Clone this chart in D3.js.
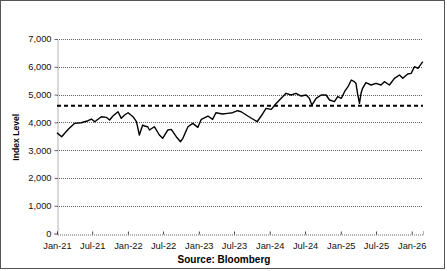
<!DOCTYPE html>
<html>
<head>
<meta charset="utf-8">
<script src="https://cdn.jsdelivr.net/npm/d3@7"></script>
<style>
  html, body { margin: 0; padding: 0; background: #fff; }
</style>
</head>
<body>
<div class="main"></div>
<script>
const width = 447;
const height = 271;
const margin = ({top: 39, right: 24, bottom: 37.5, left: 57});

// index level
const dates = [
  '2021-01-01','2021-01-25','2021-02-28','2021-04-02','2021-05-06','2021-06-10','2021-06-27',
  '2021-07-14','2021-08-17','2021-09-12','2021-09-29','2021-10-16','2021-11-11','2021-11-28',
  '2021-12-15','2022-01-02','2022-01-27','2022-02-14','2022-03-01','2022-03-18','2022-03-27',
  '2022-04-13','2022-04-22','2022-05-17','2022-06-12','2022-06-29','2022-07-25','2022-08-12',
  '2022-09-07','2022-09-29','2022-10-11','2022-11-06','2022-12-01','2022-12-27','2023-01-14',
  '2023-02-17','2023-03-13','2023-03-30','2023-05-03','2023-05-29','2023-06-24','2023-07-19',
  '2023-08-07','2023-09-10','2023-10-14','2023-10-28','2023-11-18','2023-12-13','2024-01-09',
  '2024-02-04','2024-02-29','2024-03-25','2024-04-20','2024-05-15','2024-06-11','2024-07-06',
  '2024-07-23','2024-08-05','2024-08-27','2024-09-22','2024-10-17','2024-11-04','2024-11-29',
  '2024-12-16','2025-01-04','2025-01-20','2025-02-07','2025-02-24','2025-03-11','2025-03-20',
  '2025-03-28','2025-04-07','2025-04-15','2025-04-23','2025-05-10','2025-06-06','2025-07-01',
  '2025-07-27','2025-08-13','2025-09-08','2025-10-04','2025-10-30','2025-11-16','2025-12-11',
  '2025-12-29','2026-01-15','2026-02-02','2026-02-27'
];
const values = [
  3620, 3483, 3749, 3965, 3987, 4059, 4120,
  4023, 4203, 4181, 4084, 4228, 4383, 4145,
  4264, 4347, 4203, 4023, 3545, 3904, 3868,
  3843, 3724, 3843, 3545, 3426, 3724, 3749,
  3483, 3303, 3426, 3843, 3965, 3821, 4109,
  4228, 4109, 4347, 4300, 4325, 4347, 4419,
  4383, 4228, 4084, 4023, 4228, 4505, 4469,
  4685, 4865, 5045, 4984, 5045, 4948, 4984,
  4865, 4624, 4865, 4984, 4984, 4804, 4743,
  4923, 4865, 5103, 5283, 5524, 5463, 5405,
  5045, 4685, 5045, 5225, 5427, 5344, 5405,
  5344, 5463, 5344, 5585, 5704, 5585, 5740,
  5765, 6003, 5945, 6183
];
const yTicks = [0, 1000, 2000, 3000, 4000, 5000, 6000, 7000];
const xTicks = ['2021-01-01','2021-07-01','2022-01-01','2022-07-01','2023-01-01','2023-07-01',
  '2024-01-01','2024-07-01','2025-01-01','2025-07-01','2026-01-01'];
const refLevel = 4600;
const yLabel = 'Index Level';
const source = 'Source: Bloomberg';

const parse = d3.timeParse('%Y-%m-%d');
const data = dates.map((d, i) => ({date: parse(d), value: values[i]}));

const svg = d3.select('.main')
  .append('svg')
  .attr('width', width)
  .attr('height', height)
  .attr('style', 'font-family: "Liberation Sans", Arial, sans-serif; display:block');

// outer frame
svg.append('rect')
  .attr('x', 0.5).attr('y', 0.5)
  .attr('width', 444).attr('height', 268)
  .attr('fill', 'white')
  .attr('stroke', '#555');

const x = d3.scaleTime()
  .domain([parse('2021-01-01'), parse('2026-02-28')])
  .range([margin.left, width - margin.right]);

const y = d3.scaleLinear()
  .domain([0, 7000])
  .range([height - margin.bottom, margin.top]);

// gridlines
svg.append('g')
  .selectAll('line')
  .data(yTicks.filter(d => d > 0))
  .enter()
  .append('line')
  .attr('x1', margin.left)
  .attr('x2', width - margin.right)
  .attr('y1', d => Math.round(y(d)) + 0.5)
  .attr('y2', d => Math.round(y(d)) + 0.5)
  .attr('stroke', '#666')
  .attr('stroke-dasharray', '1,1');

// y axis
svg.append('g')
  .attr('transform', `translate(${margin.left + 0.5}, 0)`)
  .call(d3.axisLeft(y).tickValues(yTicks).tickSize(3).tickPadding(3).tickFormat(d3.format(',')))
  .call(g => g.select('.domain').attr('stroke', '#666').attr('stroke-dasharray', '1,1'))
  .call(g => g.selectAll('.tick line').attr('stroke', '#666'))
  .call(g => g.selectAll('text').attr('font-size', '9.3px').attr('fill', '#111')
    .attr('font-family', '"Liberation Sans", Arial, sans-serif'));

// x axis
svg.append('g')
  .attr('transform', `translate(0, ${Math.round(y(0)) + 0.5})`)
  .call(d3.axisBottom(x).tickValues(xTicks.map(parse)).tickSize(-3).tickPadding(8)
    .tickFormat(d3.timeFormat('%b-%y')))
  .call(g => g.select('.domain').attr('stroke', '#666').attr('stroke-dasharray', '1,1'))
  .call(g => g.selectAll('.tick line').attr('stroke', '#444'))
  .call(g => g.selectAll('text').attr('font-size', '9.3px').attr('fill', '#111')
    .attr('font-family', '"Liberation Sans", Arial, sans-serif'));

// reference level
svg.append('line')
  .attr('x1', margin.left)
  .attr('x2', width - margin.right)
  .attr('y1', y(refLevel))
  .attr('y2', y(refLevel))
  .attr('stroke', 'black')
  .attr('stroke-width', 2)
  .attr('stroke-dasharray', '4,3');

// index line
svg.append('path')
  .datum(data)
  .attr('fill', 'none')
  .attr('stroke', 'black')
  .attr('stroke-width', 1.4)
  .attr('stroke-linejoin', 'round')
  .attr('d', d3.line().x(d => x(d.date)).y(d => y(d.value)));

// titles
svg.append('text')
  .attr('transform', `translate(19, ${(margin.top + height - margin.bottom) / 2 + 1}) rotate(-90)`)
  .attr('text-anchor', 'middle')
  .attr('font-size', '8.6px')
  .attr('font-weight', 'bold')
  .text(yLabel);

svg.append('text')
  .attr('x', 224)
  .attr('y', 263)
  .attr('text-anchor', 'middle')
  .attr('font-size', '10px')
  .attr('font-weight', 'bold')
  .text(source);
</script>
</body>
</html>
